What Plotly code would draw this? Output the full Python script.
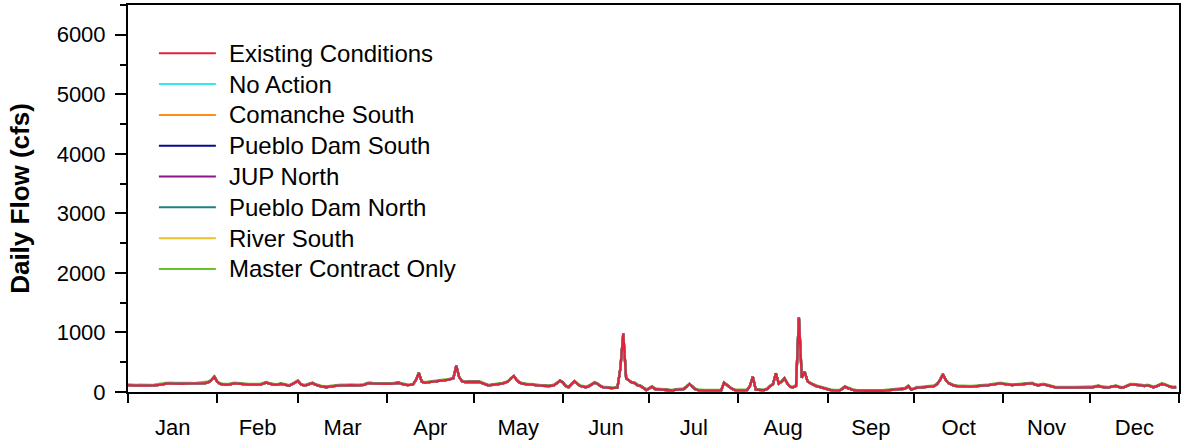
import pandas as pd
import plotly.graph_objects as go

# ---- data (daily flow, cfs) ----
month_labels = ["Jan", "Feb", "Mar", "Apr", "May", "Jun", "Jul", "Aug", "Sep", "Oct", "Nov", "Dec"]

# Existing Conditions (red, drawn on top)
ec_jan = [115,110,105,108,112,110,104,100,106,110,112,118,130,140,145,142,138,140,136,138,140,142,138,135,140,138,142,150,165,200,255]
ec_feb = [170,135,125,122,125,135,145,140,132,130,128,125,122,120,118,125,140,158,140,128,120,125,135,128,115,105,130,160]
ec_mar = [185,130,110,115,130,150,125,105,95,88,80,90,100,105,108,110,105,110,115,112,108,110,115,120,140,150,140,138,140,138,140]
ec_apr = [140,138,140,145,155,135,120,115,118,125,200,320,175,155,160,165,175,180,185,190,195,205,215,230,440,250,180,165,168,170]
ec_may = [170,172,170,150,125,112,115,120,118,125,140,156,175,230,268,200,156,140,130,125,123,115,110,108,105,100,100,105,115,150,190]
ec_jun = [160,100,78,130,179,140,100,90,78,95,130,156,140,100,78,70,67,65,68,75,400,980,229,190,156,150,112,100,60,33]
ec_jul = [60,89,50,45,40,30,25,22,25,35,42,45,50,90,134,90,45,33,25,22,22,22,22,22,22,25,156,110,78,45,28]
ec_aug = [28,25,25,30,100,257,40,30,30,32,50,100,130,312,140,175,229,140,85,80,100,1250,240,340,180,145,117,100,85,70,55]
ec_sep = [40,33,28,22,22,50,89,65,45,30,22,20,18,17,17,17,18,17,17,20,25,35,45,45,45,48,50,60,100,40]
ec_oct = [55,72,75,80,85,90,95,100,130,200,300,200,145,120,105,100,95,92,90,89,90,92,95,100,105,110,115,123,120,130,145]
ec_nov = [135,128,111,115,120,123,125,130,135,140,145,125,111,120,128,115,100,85,78,75,72,72,72,72,72,72,72,72,72,72]
ec_dec = [75,80,90,100,85,75,72,80,95,100,85,72,80,100,123,125,123,120,110,100,110,100,78,90,110,134,125,100,85,78,80]

# Master Contract Only (green, peeks out just above the red line)
mc_jan = [128,122,118,120,125,122,117,113,119,122,125,131,143,153,158,155,151,153,149,151,153,155,151,148,153,151,155,162,177,210,262]
mc_feb = [180,147,137,134,137,147,157,152,144,142,140,137,134,132,130,137,152,168,152,140,132,137,147,140,127,117,141,170]
mc_mar = [194,142,122,127,142,161,137,117,107,100,92,102,112,117,120,122,117,122,127,124,120,122,127,132,152,162,152,150,152,150,152]
mc_apr = [152,150,152,157,166,147,132,127,130,137,210,325,186,167,172,177,187,192,197,202,207,216,226,240,442,260,191,177,180,182]
mc_may = [182,184,182,162,137,124,127,132,130,137,152,167,186,238,272,210,167,152,142,137,135,127,122,120,117,112,112,117,127,161,198]
mc_jun = [170,112,90,141,188,151,112,102,90,107,141,166,151,112,90,82,79,77,80,87,405,982,238,200,166,160,124,112,72,45]
mc_jul = [72,100,62,57,52,42,37,34,37,47,54,57,62,101,143,101,57,45,37,34,34,34,34,34,34,37,164,121,90,57,40]
mc_aug = [40,37,37,42,110,262,52,42,42,44,62,111,141,318,151,185,236,151,97,92,111,1252,250,345,190,156,129,112,97,82,67]
mc_sep = [52,45,40,34,34,62,100,77,57,42,34,32,30,29,29,29,30,29,29,32,37,47,57,57,57,60,62,72,110,52]
mc_oct = [67,84,87,92,97,102,107,112,142,210,305,210,157,132,117,112,107,104,102,101,102,104,107,112,117,122,127,135,132,142,157]
mc_nov = [147,140,123,127,132,135,137,142,147,152,157,137,123,132,140,127,112,97,90,87,84,84,84,84,84,84,84,84,84,84]
mc_dec = [87,92,102,112,97,87,84,92,107,112,97,84,92,112,135,137,135,132,122,112,122,112,90,102,122,146,137,112,97,90,92]

existing_conditions = ec_jan + ec_feb + ec_mar + ec_apr + ec_may + ec_jun + ec_jul + ec_aug + ec_sep + ec_oct + ec_nov + ec_dec
master_contract_only = mc_jan + mc_feb + mc_mar + mc_apr + mc_may + mc_jun + mc_jul + mc_aug + mc_sep + mc_oct + mc_nov + mc_dec

scenario_names = ["Existing Conditions", "No Action", "Comanche South", "Pueblo Dam South",
                  "JUP North", "Pueblo Dam North", "River South", "Master Contract Only"]
scenario_colors = ["#E0243C", "#33E6F0", "#FF8C1A", "#0A0A8C", "#8C148C", "#1A8080", "#E6C22E", "#66C22E"]
# the alternatives plot under the Existing Conditions line (visually identical)
scenario_values = [existing_conditions, existing_conditions, existing_conditions, existing_conditions,
                   existing_conditions, existing_conditions, existing_conditions, master_contract_only]

y_tick_values = [0, 1000, 2000, 3000, 4000, 5000, 6000]
y_minor_values = [500, 1500, 2500, 3500, 4500, 5500, 6500]

dates = pd.date_range("2001-01-01", periods=len(existing_conditions), freq="D")

fig = go.Figure()
# draw in reverse so Existing Conditions ends on top
for name, color, vals in reversed(list(zip(scenario_names, scenario_colors, scenario_values))):
    fig.add_trace(go.Scatter(x=dates, y=vals, mode="lines", name=name, showlegend=False,
                             line=dict(color=color, width=2.3)))

# legend drawn as paper-positioned samples and labels (matches the reference's long swatches)
legend_x0, legend_x1, legend_text_x = 0.0294, 0.0836, 0.0945
legend_top, legend_step = 0.8752, 0.0796
for i, (name, color) in enumerate(zip(scenario_names, scenario_colors)):
    yy = legend_top - i * legend_step
    fig.add_shape(type="line", xref="paper", yref="paper", x0=legend_x0, x1=legend_x1, y0=yy, y1=yy,
                  line=dict(color=color, width=2))
    fig.add_annotation(xref="paper", yref="paper", x=legend_text_x, y=yy, text=name, showarrow=False,
                       xanchor="left", yanchor="middle", font=dict(size=24, color="black"))

font_family = "Arial, Liberation Sans, sans-serif"
fig.update_layout(
    width=1181, height=441,
    margin=dict(l=128, r=0, t=5, b=49),
    paper_bgcolor="white", plot_bgcolor="white",
    font=dict(family=font_family, color="black", size=22),
    showlegend=False,
    xaxis=dict(type="date", range=["2001-01-01", "2002-01-01"], dtick="M1", tick0="2001-01-01",
               tickformat="%b", ticklabelmode="period", ticks="outside", ticklen=9, tickwidth=2,
               tickcolor="black", showline=True, linewidth=2, linecolor="black", mirror=True,
               showgrid=False, zeroline=False, tickfont=dict(size=22), ticklabelstandoff=6),
    yaxis=dict(range=[0, 6500], tickmode="array", tickvals=y_tick_values,
               ticks="outside", ticklen=11, tickwidth=2, tickcolor="black",
               minor=dict(tickmode="array", tickvals=y_minor_values,
                          ticks="outside", ticklen=6, tickwidth=2, tickcolor="black", showgrid=False),
               showline=True, linewidth=2, linecolor="black", mirror=True,
               showgrid=False, zeroline=False, tickfont=dict(size=22), ticklabelstandoff=5,
               title=dict(text="<b>Daily Flow (cfs)</b>", font=dict(size=26), standoff=20)),
)

fig.write_html("out.html", config={"displayModeBar": False},
               post_script="document.body.style.margin='0';")
